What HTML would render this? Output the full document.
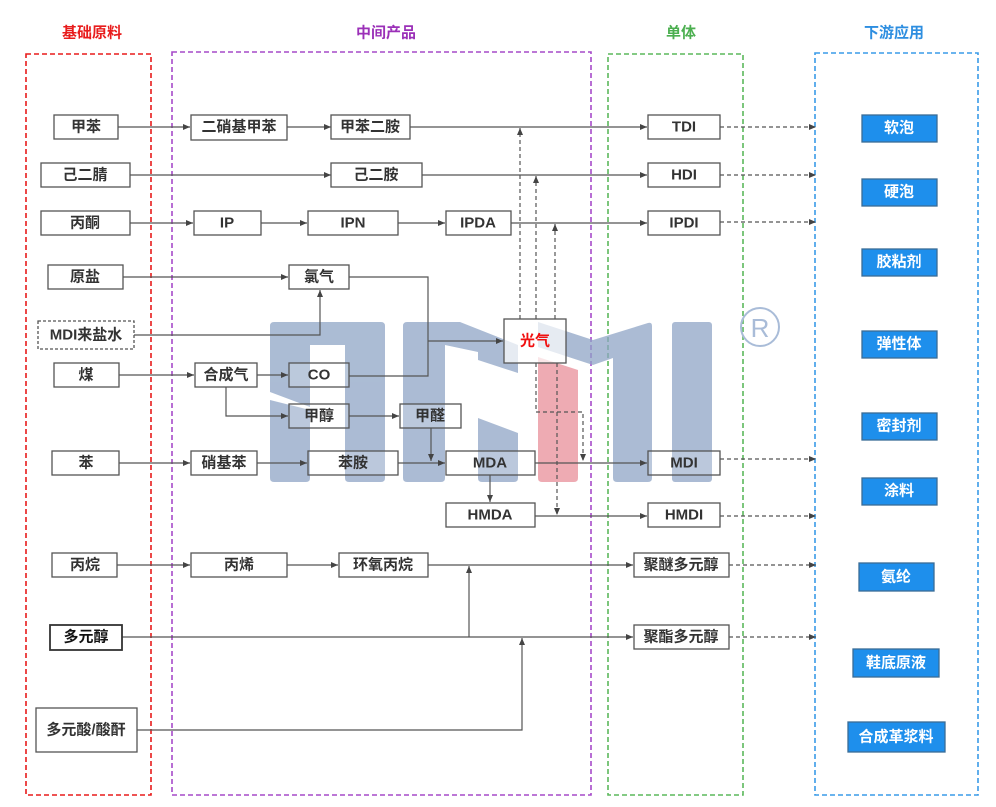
<!DOCTYPE html>
<html><head><meta charset="utf-8"><style>
body{margin:0;background:#fff}
svg{display:block}
.b{fill:#fff;stroke:#555;stroke-width:1.3}
.t{font-family:"Liberation Sans","Noto Sans CJK SC",sans-serif;font-size:15px;font-weight:bold;fill:#333;text-anchor:middle;dominant-baseline:central}
.bb{fill:#1e8fec;stroke:#3a6c96;stroke-width:1.3}
.l{stroke:#555;stroke-width:1.2;fill:none}
.d{stroke:#555;stroke-width:1.2;fill:none;stroke-dasharray:4 3}
.h{font-family:"Liberation Sans","Noto Sans CJK SC",sans-serif;font-size:15px;font-weight:bold;text-anchor:middle;dominant-baseline:central}
</style></head><body>
<svg width="996" height="807" viewBox="0 0 996 807" xmlns="http://www.w3.org/2000/svg">
<defs><marker id="a" markerWidth="8" markerHeight="8" refX="7" refY="4" orient="auto" markerUnits="userSpaceOnUse"><path d="M0,1 L7,4 L0,7z" fill="#444"/></marker></defs>

<text class="h" x="92" y="33" fill="#e81c1c">基础原料</text>
<text class="h" x="386" y="33" fill="#9b30b8">中间产品</text>
<text class="h" x="681" y="33" fill="#4caf50">单体</text>
<text class="h" x="894" y="33" fill="#2d8ee0">下游应用</text>

<rect x="26" y="54" width="125" height="741" fill="none" stroke="#e81c1c" stroke-width="1.6" stroke-dasharray="5 3"/>
<rect x="172" y="52" width="419" height="743" fill="none" stroke="#a64ac9" stroke-width="1.6" stroke-dasharray="5 3"/>
<rect x="608" y="54" width="135" height="741" fill="none" stroke="#5cb85c" stroke-width="1.6" stroke-dasharray="5 3"/>
<rect x="815" y="53" width="163" height="742" fill="none" stroke="#3a9be8" stroke-width="1.6" stroke-dasharray="5 3"/>

<!-- watermark -->
<g fill="#8fa5c6" opacity="0.75">
<path d="M274,322 H381 Q385,322 385,326 V478 Q385,482 381,482 H349 Q345,482 345,478 V345 H310 V407 L270,392 V326 Q270,322 274,322Z"/>
<path d="M270,400 L310,410 V478 Q310,482 306,482 H274 Q270,482 270,478Z"/>
<path d="M407,322 H460 L518,345 V373 L478,360 V352 L445,345 V478 Q445,482 441,482 H407 Q403,482 403,478 V326 Q403,322 407,322Z"/>
<path d="M478,418 L518,433 V478 Q518,482 514,482 H482 Q478,482 478,478Z"/>
<path d="M538,322 L593,340 L648,323 Q652,322 652,326 V478 Q652,482 648,482 H617 Q613,482 613,478 V358 L593,365 L538,347Z"/>
<rect x="672" y="322" width="40" height="160" rx="3"/>
</g>
<path d="M538,357 L578,370 V478 Q578,482 574,482 H542 Q538,482 538,478Z" fill="#e88f99" opacity="0.75"/>
<circle cx="760" cy="327" r="19" fill="none" stroke="#a9bcd8" stroke-width="2"/>
<text x="760" y="328" font-family="Liberation Sans,sans-serif" font-size="26" fill="#a9bcd8" text-anchor="middle" dominant-baseline="central">R</text>

<!-- solid connectors -->
<g class="l">
<path d="M118,127 H190" marker-end="url(#a)"/><path d="M287,127 H331" marker-end="url(#a)"/><path d="M410,127 H647" marker-end="url(#a)"/>
<path d="M130,175 H331" marker-end="url(#a)"/><path d="M422,175 H647" marker-end="url(#a)"/>
<path d="M130,223 H193" marker-end="url(#a)"/><path d="M261,223 H307" marker-end="url(#a)"/><path d="M398,223 H445" marker-end="url(#a)"/><path d="M511,223 H647" marker-end="url(#a)"/>
<path d="M123,277 H288" marker-end="url(#a)"/>
<path d="M134,335 H320 V290" marker-end="url(#a)"/>
<path d="M349,277 H428 V376 H349"/><path d="M428,341 H503" marker-end="url(#a)"/>
<path d="M119,375 H194" marker-end="url(#a)"/><path d="M257,375 H288" marker-end="url(#a)"/>
<path d="M226,387 V416 H288" marker-end="url(#a)"/><path d="M349,416 H399" marker-end="url(#a)"/>
<path d="M431,428 V461" marker-end="url(#a)"/>
<path d="M119,463 H190" marker-end="url(#a)"/><path d="M257,463 H307" marker-end="url(#a)"/><path d="M398,463 H445" marker-end="url(#a)"/><path d="M535,463 H647" marker-end="url(#a)"/>
<path d="M490,475 V502" marker-end="url(#a)"/>
<path d="M535,516 H647" marker-end="url(#a)"/>
<path d="M117,565 H190" marker-end="url(#a)"/><path d="M287,565 H338" marker-end="url(#a)"/><path d="M428,565 H633" marker-end="url(#a)"/>
<path d="M122,637 H633" marker-end="url(#a)"/>
<path d="M469,637 V566" marker-end="url(#a)"/>
<path d="M137,730 H522 V638" marker-end="url(#a)"/>
</g>
<!-- dashed -->
<g class="d">
<path d="M520,319 V128" marker-end="url(#a)"/><path d="M536,319 V176" marker-end="url(#a)"/><path d="M555,319 V224" marker-end="url(#a)"/>
<path d="M536,363 V412 H583 V461" marker-end="url(#a)"/><path d="M557,363 V515" marker-end="url(#a)"/>
<path d="M720,127 H816" marker-end="url(#a)"/><path d="M720,175 H816" marker-end="url(#a)"/><path d="M720,222 H816" marker-end="url(#a)"/>
<path d="M720,459 H816" marker-end="url(#a)"/><path d="M720,516 H816" marker-end="url(#a)"/>
<path d="M729,565 H816" marker-end="url(#a)"/><path d="M729,637 H816" marker-end="url(#a)"/>
</g>

<!-- boxes -->
<g>
<rect class="b" x="54" y="115" width="64" height="24"/><text class="t" x="86" y="127">甲苯</text>
<rect class="b" x="191" y="115" width="96" height="25"/><text class="t" x="239" y="127">二硝基甲苯</text>
<rect class="b" x="331" y="115" width="79" height="24"/><text class="t" x="370" y="127">甲苯二胺</text>
<rect class="b" x="648" y="115" width="72" height="24"/><text class="t" x="684" y="127">TDI</text>

<rect class="b" x="41" y="163" width="89" height="24"/><text class="t" x="85" y="175">己二腈</text>
<rect class="b" x="331" y="163" width="91" height="24"/><text class="t" x="376" y="175">己二胺</text>
<rect class="b" x="648" y="163" width="72" height="24"/><text class="t" x="684" y="175">HDI</text>

<rect class="b" x="41" y="211" width="89" height="24"/><text class="t" x="85" y="223">丙酮</text>
<rect class="b" x="194" y="211" width="67" height="24"/><text class="t" x="227" y="223">IP</text>
<rect class="b" x="308" y="211" width="90" height="24"/><text class="t" x="353" y="223">IPN</text>
<rect class="b" x="446" y="211" width="65" height="24"/><text class="t" x="478" y="223">IPDA</text>
<rect class="b" x="648" y="211" width="72" height="24"/><text class="t" x="684" y="223">IPDI</text>

<rect class="b" x="48" y="265" width="75" height="24"/><text class="t" x="85" y="277">原盐</text>
<rect class="b" x="289" y="265" width="60" height="24"/><text class="t" x="319" y="277">氯气</text>
<rect class="b" x="38" y="321" width="96" height="28" stroke-dasharray="3 2"/><text class="t" x="86" y="335">MDI来盐水</text>
<rect class="b" x="504" y="319" width="62" height="44" fill-opacity="0.7"/><text class="t" x="535" y="341" style="fill:#f01010">光气</text>

<rect class="b" x="54" y="363" width="65" height="24"/><text class="t" x="86" y="375">煤</text>
<rect class="b" x="195" y="363" width="62" height="24"/><text class="t" x="226" y="375">合成气</text>
<rect class="b" x="289" y="363" width="60" height="24" fill-opacity="0.2"/><text class="t" x="319" y="375">CO</text>
<rect class="b" x="289" y="404" width="60" height="24" fill-opacity="0.2"/><text class="t" x="319" y="416">甲醇</text>
<rect class="b" x="400" y="404" width="61" height="24" fill-opacity="0.2"/><text class="t" x="430" y="416">甲醛</text>

<rect class="b" x="52" y="451" width="67" height="24"/><text class="t" x="86" y="463">苯</text>
<rect class="b" x="191" y="451" width="66" height="24"/><text class="t" x="224" y="463">硝基苯</text>
<rect class="b" x="308" y="451" width="90" height="24" fill-opacity="0.2"/><text class="t" x="353" y="463">苯胺</text>
<rect class="b" x="446" y="451" width="89" height="24" fill-opacity="0.2"/><text class="t" x="490" y="463">MDA</text>
<rect class="b" x="648" y="451" width="72" height="24" fill-opacity="0.2"/><text class="t" x="684" y="463">MDI</text>
<rect class="b" x="446" y="503" width="89" height="24"/><text class="t" x="490" y="515">HMDA</text>
<rect class="b" x="648" y="503" width="72" height="24"/><text class="t" x="684" y="515">HMDI</text>

<rect class="b" x="52" y="553" width="65" height="24"/><text class="t" x="85" y="565">丙烷</text>
<rect class="b" x="191" y="553" width="96" height="24"/><text class="t" x="239" y="565">丙烯</text>
<rect class="b" x="339" y="553" width="89" height="24"/><text class="t" x="383" y="565">环氧丙烷</text>
<rect class="b" x="634" y="553" width="95" height="24"/><text class="t" x="681" y="565">聚醚多元醇</text>
<rect class="b" x="50" y="625" width="72" height="25" style="stroke:#333;stroke-width:1.8"/><text class="t" x="86" y="637" style="fill:#111">多元醇</text>
<rect class="b" x="634" y="625" width="95" height="24"/><text class="t" x="681" y="637">聚酯多元醇</text>
<rect class="b" x="36" y="708" width="101" height="44"/><text class="t" x="86" y="730">多元酸/酸酐</text>
</g>

<!-- downstream -->
<g>
<rect class="bb" x="862" y="115" width="75" height="27"/><text class="t" x="899" y="128" style="fill:#fff">软泡</text>
<rect class="bb" x="862" y="179" width="75" height="27"/><text class="t" x="899" y="192" style="fill:#fff">硬泡</text>
<rect class="bb" x="862" y="249" width="75" height="27"/><text class="t" x="899" y="262" style="fill:#fff">胶粘剂</text>
<rect class="bb" x="862" y="331" width="75" height="27"/><text class="t" x="899" y="344" style="fill:#fff">弹性体</text>
<rect class="bb" x="862" y="413" width="75" height="27"/><text class="t" x="899" y="426" style="fill:#fff">密封剂</text>
<rect class="bb" x="862" y="478" width="75" height="27"/><text class="t" x="899" y="491" style="fill:#fff">涂料</text>
<rect class="bb" x="859" y="563" width="75" height="28"/><text class="t" x="896" y="577" style="fill:#fff">氨纶</text>
<rect class="bb" x="853" y="649" width="86" height="28"/><text class="t" x="896" y="663" style="fill:#fff">鞋底原液</text>
<rect class="bb" x="848" y="722" width="97" height="30"/><text class="t" x="896" y="737" style="fill:#fff">合成革浆料</text>
</g>
</svg>
</body></html>
